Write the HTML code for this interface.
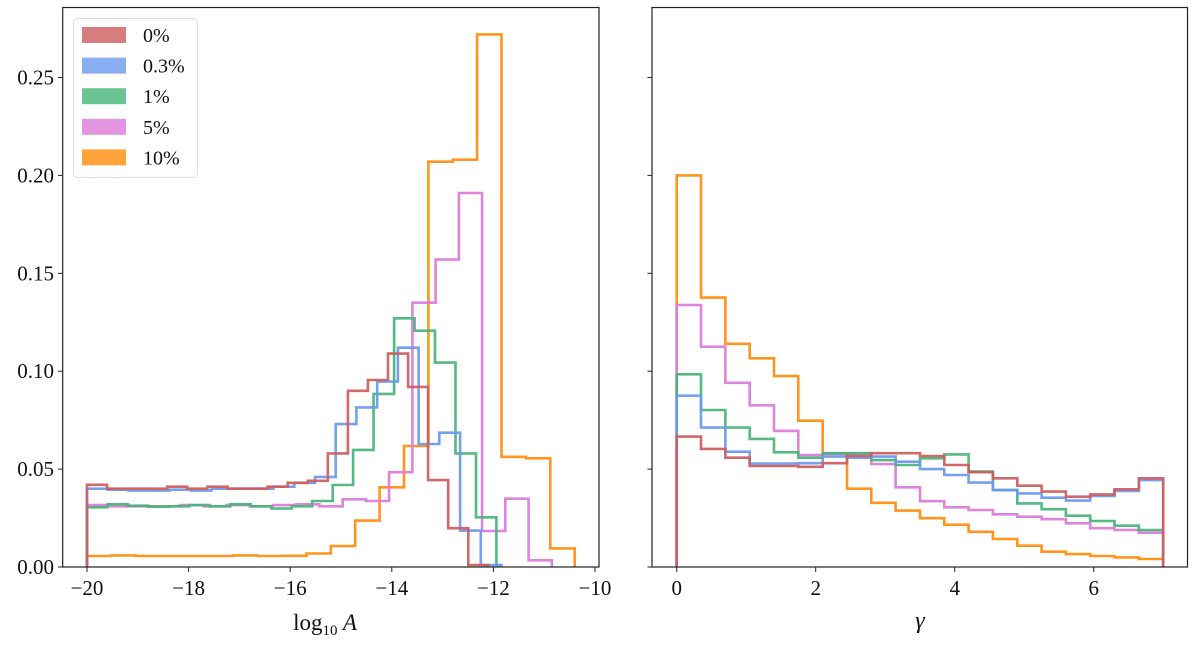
<!DOCTYPE html>
<html><head><meta charset="utf-8"><style>
body{margin:0;background:#fff;}
svg{display:block;font-family:"Liberation Serif",serif;}
</style></head><body>
<svg id="c" width="1200" height="647"></svg>
<script>
const seriesNames = ["0%","0.3%","1%","5%","10%"];
const seriesColors = ["#cd5c5c","#6a98ee","#45b477","#dc7ad9","#ff8c0a"];
// left panel: log10 A histograms (20 bins each, from -20 to end)
const leftEnds = [-12.1, -11.84, -11.94, -10.85, -10.4];
const leftRed = [0.042,0.040,0.040,0.040,0.041,0.040,0.041,0.040,0.040,0.041,0.043,0.044,0.058,0.090,0.0955,0.109,0.092,0.0444,0.0198,0.001];
const leftBlue = [0.040,0.0395,0.039,0.039,0.0395,0.039,0.040,0.040,0.040,0.041,0.043,0.046,0.073,0.0815,0.0947,0.112,0.0628,0.0686,0.0186,0.001];
const leftGreen = [0.0305,0.032,0.0313,0.0308,0.031,0.0316,0.031,0.032,0.031,0.0299,0.031,0.0337,0.0419,0.0598,0.0884,0.127,0.1207,0.1044,0.058,0.0254];
const leftPink = [0.0316,0.031,0.031,0.031,0.0316,0.031,0.0316,0.031,0.0316,0.032,0.031,0.0346,0.0337,0.0484,0.135,0.157,0.191,0.0184,0.0349,0.0034];
const leftOrange = [0.0056,0.0059,0.0056,0.0056,0.0056,0.0056,0.0059,0.0056,0.0057,0.0069,0.0107,0.0237,0.0407,0.0618,0.207,0.208,0.272,0.0563,0.0555,0.0095];
// right panel: gamma histograms (20 bins from 0 to 7)
const rightRed = [0.0666,0.0603,0.0558,0.0516,0.0516,0.0512,0.053,0.0567,0.0581,0.0581,0.0567,0.0521,0.0484,0.0453,0.0415,0.0385,0.0359,0.0371,0.0397,0.0453];
const rightBlue = [0.0875,0.0712,0.0589,0.0528,0.0528,0.053,0.0564,0.0558,0.0564,0.0538,0.05,0.047,0.0431,0.0393,0.0376,0.0354,0.0339,0.0363,0.0388,0.0444];
const rightGreen = [0.0984,0.0802,0.0712,0.0654,0.0586,0.0558,0.0581,0.0581,0.0546,0.0521,0.0555,0.0575,0.0487,0.0393,0.0325,0.0295,0.0262,0.0235,0.0211,0.0189];
const rightPink = [0.1338,0.1125,0.0941,0.0826,0.0695,0.0572,0.0577,0.0577,0.0526,0.0407,0.0336,0.0305,0.0291,0.0269,0.0257,0.0244,0.0223,0.0198,0.0189,0.0175];
const rightOrange = [0.200,0.1376,0.114,0.1066,0.0975,0.0747,0.058,0.040,0.0328,0.0288,0.0249,0.0216,0.018,0.0143,0.0109,0.0078,0.0066,0.0056,0.0049,0.0041];
const yTicks = [0,0.05,0.10,0.15,0.20,0.25];
const yTickLabels = ["0.00","0.05","0.10","0.15","0.20","0.25"];
const leftXTicks = [-20,-18,-16,-14,-12,-10];
const rightXTicks = [0,2,4,6];

const NS="http://www.w3.org/2000/svg";
const svg=document.getElementById('c');
function mk(tag,attrs,parent){const e=document.createElementNS(NS,tag);for(const k in attrs)e.setAttribute(k,attrs[k]);(parent||svg).appendChild(e);return e;}
const Y=v=>567-v*1958;
const LX=x=>87+(x+20)*50.8;
const RX=x=>676.7+x*69.5;
const leftData=[leftRed,leftBlue,leftGreen,leftPink,leftOrange];
const rightData=[rightRed,rightBlue,rightGreen,rightPink,rightOrange];

function stepPath(vals,x0,x1,X){
  const n=vals.length,w=(x1-x0)/n;
  let d="M"+X(x0).toFixed(1)+","+Y(0).toFixed(1);
  for(let i=0;i<n;i++){
    const a=X(x0+i*w),b=X(x0+(i+1)*w),y=Y(vals[i]);
    d+=" L"+a.toFixed(1)+","+y.toFixed(1)+" L"+b.toFixed(1)+","+y.toFixed(1);
  }
  d+=" L"+X(x1).toFixed(1)+","+Y(0).toFixed(1);
  return d;
}
const order=[4,3,2,1,0];
const gl=mk('g',{});


order.forEach(i=>{
  const p=mk('path',{d:stepPath(leftData[i],-20,leftEnds[i],LX),fill:'none',stroke:seriesColors[i],'stroke-width':2.6,'stroke-opacity':0.92},gl);
  
  
});
const gr=mk('g',{});


order.forEach(i=>{
  const p=mk('path',{d:stepPath(rightData[i],0,7,RX),fill:'none',stroke:seriesColors[i],'stroke-width':2.6,'stroke-opacity':0.92},gr);
  
  
});
const f1=mk('rect',{x:62.7,y:7.5,width:536.3,height:559.5,fill:'none',stroke:'#222','stroke-width':1.2});

const f2=mk('rect',{x:652,y:7.5,width:535.5,height:559.5,fill:'none',stroke:'#222','stroke-width':1.2});

yTicks.forEach((v,i)=>{
  mk('line',{x1:58,x2:62.7,y1:Y(v),y2:Y(v),stroke:'#222','stroke-width':1});
  mk('line',{x1:647.5,x2:652,y1:Y(v),y2:Y(v),stroke:'#222','stroke-width':1});
  const t=mk('text',{x:54,y:Y(v)+7,'text-anchor':'end','font-size':21,fill:'#111'});
  t.textContent=yTickLabels[i];
  
  
});
leftXTicks.forEach(v=>{
  mk('line',{x1:LX(v),x2:LX(v),y1:567,y2:572,stroke:'#222','stroke-width':1});
  const t=mk('text',{x:LX(v),y:595,'text-anchor':'middle','font-size':21,fill:'#111'});
  t.textContent=(v<0?'\u2212':'')+Math.abs(v);
  
  
});
rightXTicks.forEach(v=>{
  mk('line',{x1:RX(v),x2:RX(v),y1:567,y2:572,stroke:'#222','stroke-width':1});
  const t=mk('text',{x:RX(v),y:595,'text-anchor':'middle','font-size':21,fill:'#111'});
  t.textContent=String(v);
  
  
});
const xl=mk('text',{x:325,y:630,'text-anchor':'middle','font-size':23,fill:'#111'});

xl.innerHTML='log<tspan font-size="15" dy="5">10</tspan><tspan dy="-5" font-style="italic"> A</tspan>';
const xr=mk('text',{x:920,y:628,'text-anchor':'middle','font-size':24,'font-style':'italic',fill:'#111'});

xr.textContent='\u03b3';
const lg=mk('g',{});

mk('rect',{x:73.5,y:18.5,width:124,height:159,rx:4,fill:'#fff',stroke:'#ddd','stroke-width':1},lg);
seriesNames.forEach((n,i)=>{
  const cy=35+i*30.6;
  const r=mk('rect',{x:82,y:cy-8,width:44,height:16,fill:seriesColors[i],'fill-opacity':0.8},lg);
  
  const t=mk('text',{x:143,y:cy+7,'font-size':20,fill:'#111'},lg);
  t.textContent=n;
  
});
</script>
</body></html>
